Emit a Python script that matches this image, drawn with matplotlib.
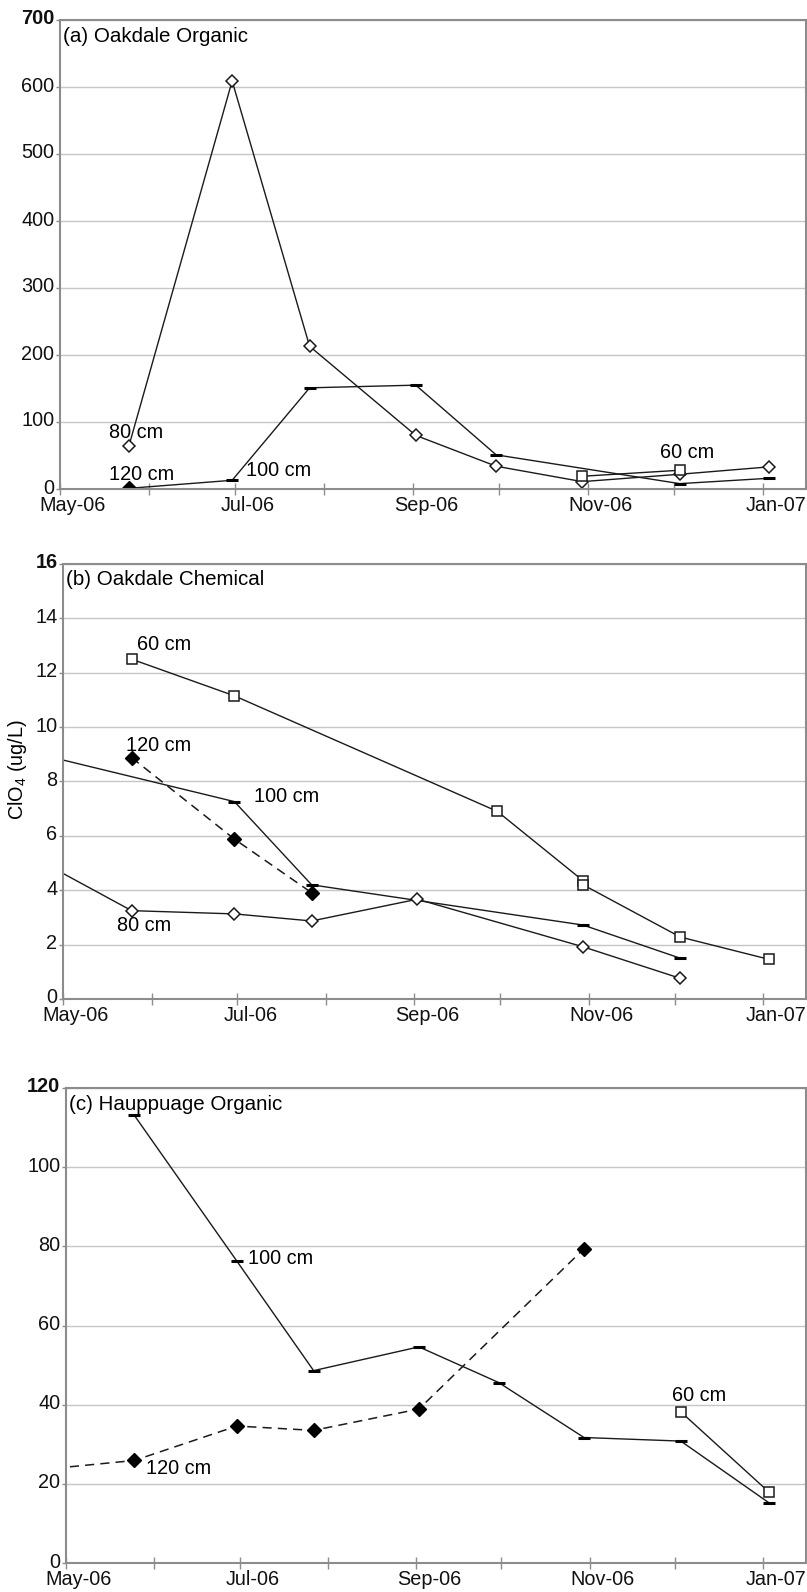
import matplotlib
matplotlib.use("Agg")
import matplotlib.pyplot as plt
import matplotlib.dates as mdates
import matplotlib.transforms as mtrans
from datetime import datetime as dt

plt.rcParams['font.family'] = ['Liberation Sans', 'DejaVu Sans']
plt.rcParams['font.size'] = 14.3
plt.rcParams['mathtext.fontset'] = 'custom'
plt.rcParams['mathtext.rm'] = 'Liberation Sans'
plt.rcParams['mathtext.it'] = 'Liberation Sans:italic'

# sampling dates
d_pre = dt(2006, 4, 11)
d_may = dt(2006, 5, 25)
d_jun = dt(2006, 6, 30)
d_jul = dt(2006, 7, 27)
d_sep = dt(2006, 9, 2)
d_sep2 = dt(2006, 9, 30)
d_oct = dt(2006, 10, 30)
d_dec = dt(2006, 12, 3)
d_jan = dt(2007, 1, 3)

# (a) Oakdale Organic
a60_x = [d_oct, d_dec]
a60_y = [19, 28]
a80_x = [d_may, d_jun, d_jul, d_sep, d_sep2, d_oct, d_dec, d_jan]
a80_y = [64, 609, 213, 80, 34, 11, 22, 33]
a100_x = [d_may, d_jun, d_jul, d_sep, d_sep2, d_dec, d_jan]
a100_y = [1, 13, 151, 155, 51, 8, 16]
a120_x = [d_may]
a120_y = [1]

# (b) Oakdale Chemical
b60_x = [d_may, d_jun, d_sep2, d_oct, d_oct, d_dec, d_jan]
b60_y = [12.5, 11.15, 6.9, 4.35, 4.2, 2.28, 1.46]
b80_x = [d_pre, d_may, d_jun, d_jul, d_sep, d_oct, d_dec]
b80_y = [5.76, 3.25, 3.13, 2.87, 3.67, 1.92, 0.76]
b100_x = [d_pre, d_jun, d_jul, d_oct, d_dec]
b100_y = [9.3, 7.26, 4.2, 2.72, 1.5]
b120_x = [d_may, d_jun, d_jul]
b120_y = [8.88, 5.88, 3.91]

# (c) Hauppuage Organic
c60_x = [d_dec, d_jan]
c60_y = [38.2, 17.9]
c100_x = [d_may, d_jun, d_jul, d_sep, d_sep2, d_oct, d_dec, d_jan]
c100_y = [113.1, 76.3, 48.6, 54.6, 45.6, 31.7, 30.8, 15.2]
c120_x = [d_pre, d_may, d_jun, d_jul, d_sep, d_oct]
c120_y = [22.8, 25.9, 34.6, 33.5, 38.9, 79.4]

# depth labels: (text, date, value)
a_labels = [("80 cm", dt(2006, 5, 18), 85), ("120 cm", dt(2006, 5, 18), 21),
            ("100 cm", dt(2006, 7, 5), 27), ("60 cm", dt(2006, 11, 26), 55)]
b_labels = [("60 cm", dt(2006, 5, 27), 13.05), ("120 cm", dt(2006, 5, 23), 9.34),
            ("100 cm", dt(2006, 7, 7), 7.44), ("80 cm", dt(2006, 5, 20), 2.7)]
c_labels = [("100 cm", dt(2006, 7, 4), 77.0), ("120 cm", dt(2006, 5, 29), 23.9),
            ("60 cm", dt(2006, 11, 30), 42.2)]

x_ticks = [dt(2006, 5, 1), dt(2006, 7, 1), dt(2006, 9, 1), dt(2006, 11, 1), dt(2007, 1, 1)]
x_ticklabels = ["May-06", "Jul-06", "Sep-06", "Nov-06", "Jan-07"]
x_min = dt(2006, 5, 1)
x_max = dt(2007, 1, 16)

W, H = 807, 1592
fig = plt.figure(figsize=(W / 100, H / 100), dpi=100)

def box(l, r, t, b):
    return [l / W, 1 - b / H, (r - l) / W, (b - t) / H]

ax_a = fig.add_axes(box(60, 806, 20, 489))
ax_b = fig.add_axes(box(63, 806, 564, 999))
ax_c = fig.add_axes(box(66, 806, 1088, 1563))

LC = '#1a1a1a'
spine_c = '#8c8c8c'

def style(ax, ymax, ystep, title):
    ax.set_xlim(x_min, x_max)
    ax.set_ylim(0, ymax)
    yt = list(range(0, ymax + 1, ystep))
    ax.set_yticks(yt)
    ax.set_yticklabels([str(v) for v in yt])
    ax.set_xticks(x_ticks)
    ax.set_xticklabels(x_ticklabels)
    ax.xaxis.set_minor_locator(mdates.MonthLocator())
    ax.yaxis.grid(True, color='#c6c6c6', lw=1.0)
    ax.set_axisbelow(True)
    for s in ax.spines.values():
        s.set_color(spine_c)
        s.set_linewidth(1.5)
    ax.tick_params(axis='x', which='both', direction='inout', length=8,
                   width=1, color=spine_c, pad=1, labelcolor='#111111')
    ax.tick_params(axis='y', direction='out', length=3, width=1,
                   color=spine_c, pad=1, labelcolor='#111111')
    xoff = mtrans.ScaledTranslation(0.13, 0, fig.dpi_scale_trans)
    for lab in ax.get_xticklabels():
        lab.set_transform(lab.get_transform() + xoff)
    yoff = mtrans.ScaledTranslation(0, 0.03, fig.dpi_scale_trans)
    for lab in ax.get_yticklabels():
        lab.set_transform(lab.get_transform() + yoff)
    ax.get_yticklabels()[-1].set_fontweight('bold')
    ax.annotate(title, xy=(0, 1), xycoords='axes fraction', xytext=(3, -16),
                textcoords='offset pixels', ha='left', va='center', fontsize=14.8)

def sq(ax, x, y):
    ax.plot(x, y, color=LC, lw=1.0, marker='s', ms=7, mfc='white', mec=LC, mew=1.1)

def dia(ax, x, y):
    ax.plot(x, y, color=LC, lw=1.0, marker='D', ms=6, mfc='white', mec=LC, mew=1.1)

def dash(ax, x, y):
    ax.plot(x, y, color=LC, lw=1.0, marker='_', ms=9, mec='black', mew=2.2)

def filled(ax, x, y):
    ax.plot(x, y, color=LC, lw=1.1, ls=(0, (6, 4)), marker='D', ms=7,
            mfc='black', mec='black')

# (a)
dash(ax_a, a100_x, a100_y)
dia(ax_a, a80_x, a80_y)
sq(ax_a, a60_x, a60_y)
filled(ax_a, a120_x, a120_y)
style(ax_a, 700, 100, "(a) Oakdale Organic")
for t, x, y in a_labels:
    ax_a.text(x, y, t, ha='left', va='center')

# (b)
sq(ax_b, b60_x, b60_y)
dash(ax_b, b100_x, b100_y)
dia(ax_b, b80_x, b80_y)
filled(ax_b, b120_x, b120_y)
style(ax_b, 16, 2, "(b) Oakdale Chemical")
ax_b.set_ylabel("ClO$_4$ (ug/L)")
ax_b.yaxis.set_label_coords(-0.046, 0.528)
for t, x, y in b_labels:
    ax_b.text(x, y, t, ha='left', va='center')

# (c)
dash(ax_c, c100_x, c100_y)
filled(ax_c, c120_x, c120_y)
sq(ax_c, c60_x, c60_y)
style(ax_c, 120, 20, "(c) Hauppuage Organic")
for t, x, y in c_labels:
    ax_c.text(x, y, t, ha='left', va='center')

fig.savefig("out.png", dpi=100)
